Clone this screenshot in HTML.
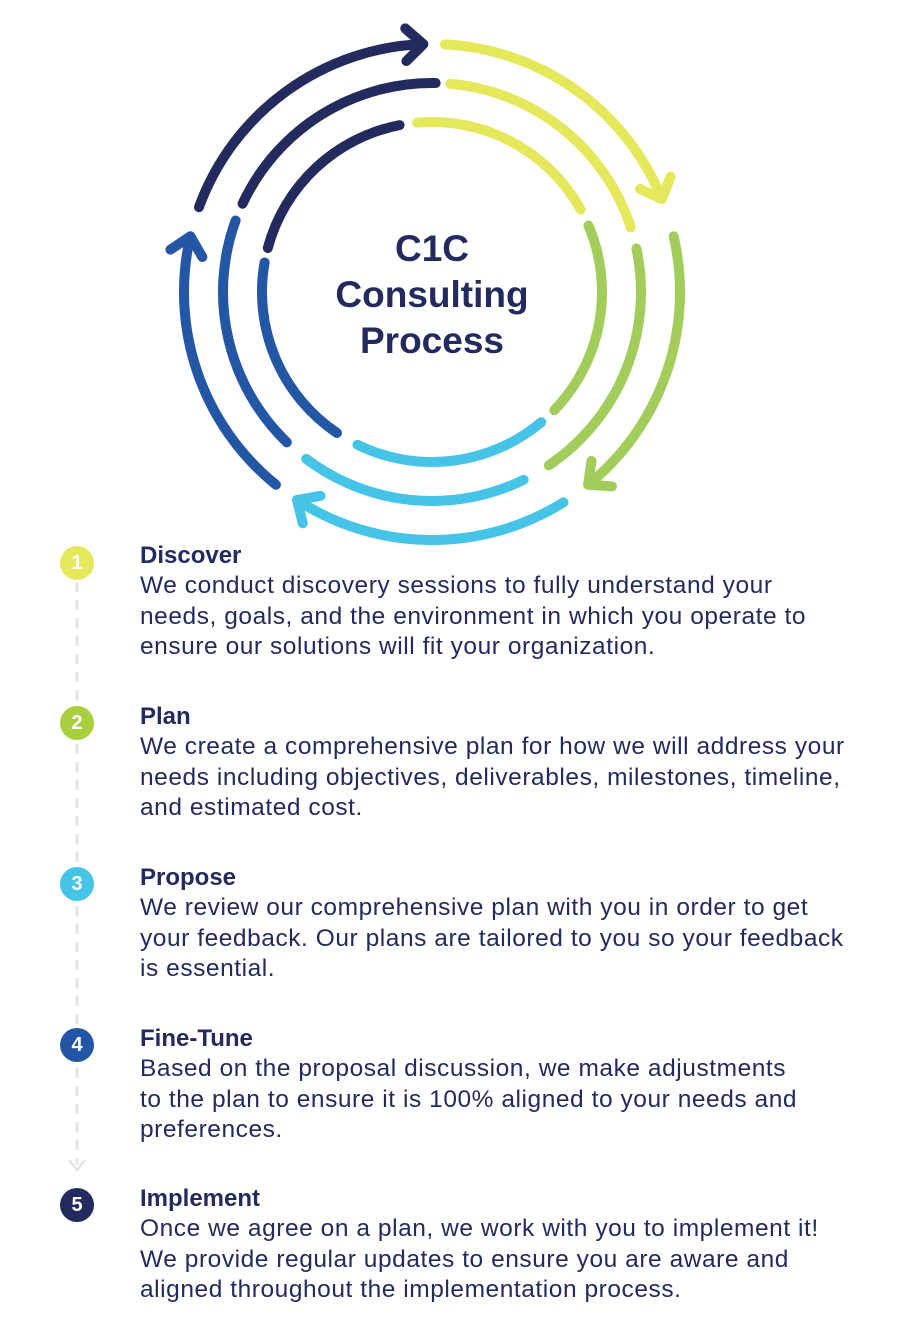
<!DOCTYPE html>
<html><head><meta charset="utf-8">
<style>
html,body{margin:0;padding:0;background:#fff;}
body{width:913px;height:1328px;position:relative;overflow:hidden;font-family:"Liberation Sans",sans-serif;color:#232a5e;}
svg{position:absolute;left:0;top:0;}
.title{position:absolute;left:0;width:864px;text-align:center;font-weight:bold;font-size:37px;line-height:46px;top:226px;}
.blk{position:absolute;left:140px;font-size:24.5px;letter-spacing:0.55px;line-height:30.3px;white-space:nowrap;}
.blk b{display:block;font-size:24px;letter-spacing:0;}
.num{position:absolute;left:60px;width:34px;height:34px;border-radius:50%;color:#fff;font-weight:bold;font-size:20px;line-height:34px;text-align:center;}
</style></head><body>
<svg id="s" width="913" height="1328" viewBox="0 0 913 1328">
<line x1="77" y1="582" x2="77" y2="1165" stroke="#e4e4e4" stroke-width="3" stroke-dasharray="10,8"/>
<polyline points="69,1160 77,1170 85,1160" fill="none" stroke="#e4e4e4" stroke-width="2.5"/>
</svg>
<div class="title">C1C<br>Consulting<br>Process</div>

<div class="num" style="top:546px;background:#e4e85a">1</div>
<div class="num" style="top:706px;background:#a9cf3f">2</div>
<div class="num" style="top:867px;background:#45c4e8">3</div>
<div class="num" style="top:1028px;background:#2357a5">4</div>
<div class="num" style="top:1188px;background:#232a5e">5</div>

<div class="blk" style="top:541px"><b>Discover</b>We conduct discovery sessions to fully understand your<br>needs, goals, and the environment in which you operate to<br>ensure our solutions will fit your organization.</div>
<div class="blk" style="top:702px"><b>Plan</b>We create a comprehensive plan for how we will address your<br>needs including objectives, deliverables, milestones, timeline,<br>and estimated cost.</div>
<div class="blk" style="top:863px"><b>Propose</b>We review our comprehensive plan with you in order to get<br>your feedback. Our plans are tailored to you so your feedback<br>is essential.</div>
<div class="blk" style="top:1024px"><b>Fine-Tune</b>Based on the proposal discussion, we make adjustments<br>to the plan to ensure it is 100% aligned to your needs and<br>preferences.</div>
<div class="blk" style="top:1184px"><b>Implement</b>Once we agree on a plan, we work with you to implement it!<br>We provide regular updates to ensure you are aware and<br>aligned throughout the implementation process.</div>

<script>
var cx=432,cy=292,s=document.getElementById('s'),NS='http://www.w3.org/2000/svg';
function pt(r,a){a=a*Math.PI/180;return [cx+r*Math.sin(a),cy-r*Math.cos(a)];}
function arc(r,a1,a2,col,arrow){
 var p1=pt(r,a1),p2=pt(r,a2),large=(a2-a1)>180?1:0;
 var d='M'+p1[0]+' '+p1[1]+' A'+r+' '+r+' 0 '+large+' 1 '+p2[0]+' '+p2[1];
 if(arrow){var a=a2*Math.PI/180,tx=Math.cos(a),ty=Math.sin(a),L=24,k=Math.cos(0.75),m=Math.sin(0.75);
  var b1=[p2[0]-L*(tx*k-ty*m),p2[1]-L*(ty*k+tx*m)],b2=[p2[0]-L*(tx*k+ty*m),p2[1]-L*(ty*k-tx*m)];
  d+=' M'+b1[0]+' '+b1[1]+' L'+p2[0]+' '+p2[1]+' L'+b2[0]+' '+b2[1];}
 var e=document.createElementNS(NS,'path');e.setAttribute('d',d);e.setAttribute('fill','none');
 e.setAttribute('stroke',col);e.setAttribute('stroke-width','10');e.setAttribute('stroke-linecap','round');e.setAttribute('stroke-linejoin','round');s.appendChild(e);}
var D='#232a5e',Y='#e4e85a',G='#a3cd5a',C='#45c4e8',B='#2357a5';
arc(248,-70,-2,D,1);arc(248,3,68,Y,1);arc(248,77,141,G,1);arc(248,148,213,C,1);arc(248,219,283,B,1);
arc(209,-65,1,D);arc(209,5,72,Y);arc(209,78,146,G);arc(209,154,217,C);arc(209,224,290,B);
arc(170,-75,-11,D);arc(170,-5,61,Y);arc(170,67,134,G);arc(170,140,206,C);arc(170,214,280,B);
</script>
</body></html>
